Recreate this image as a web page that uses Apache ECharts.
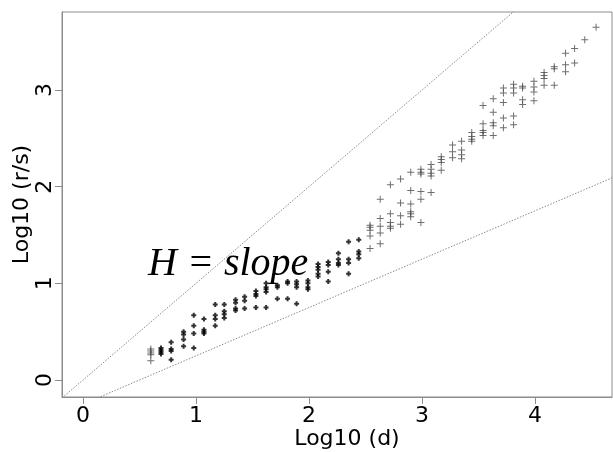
<!DOCTYPE html>
<html>
<head>
<meta charset="utf-8">
<script src="https://cdn.jsdelivr.net/npm/echarts@6/dist/echarts.min.js"></script>
<style>html,body{margin:0;padding:0;background:#fff}#c{width:613px;height:452px}</style>
</head>
<body>
<div id="c"></div>
<script>
// Column positions: log10(d)
const logD = [0.60, 0.69, 0.78, 0.89, 0.98, 1.07, 1.17, 1.25, 1.35, 1.43, 1.53, 1.62, 1.72, 1.81, 1.89, 1.99, 2.08, 2.17, 2.26, 2.35, 2.44,
  2.54, 2.63, 2.72, 2.81, 2.90, 2.99, 3.08, 3.17, 3.27, 3.35, 3.44, 3.54, 3.63, 3.72, 3.81, 3.89, 3.99, 4.08, 4.17, 4.27, 4.35, 4.44, 4.54];
// log10(r/s) values in each column
const logRS = [
  [0.32, 0.30, 0.28, 0.26, 0.20],
  [0.33, 0.31, 0.29, 0.27],
  [0.39, 0.32, 0.30, 0.21],
  [0.50, 0.47, 0.42, 0.35],
  [0.67, 0.56, 0.48, 0.33],
  [0.63, 0.52, 0.50, 0.48],
  [0.78, 0.67, 0.63, 0.56],
  [0.78, 0.71, 0.68, 0.64],
  [0.83, 0.80, 0.74, 0.72],
  [0.86, 0.82, 0.74],
  [0.92, 0.89, 0.87, 0.75],
  [1.00, 0.96, 0.94, 0.91, 0.75],
  [0.98, 0.96, 0.84],
  [1.02, 1.00, 0.84],
  [1.02, 0.99, 0.96, 0.79],
  [1.03, 1.00, 0.96, 0.94],
  [1.20, 1.17, 1.14, 1.10, 1.07],
  [1.22, 1.19, 1.12, 1.02],
  [1.31, 1.25, 1.21, 1.19],
  [1.43, 1.25, 1.21, 1.10],
  [1.45, 1.33, 1.30, 1.26],
  [1.60, 1.58, 1.55, 1.49, 1.36],
  [1.87, 1.67, 1.59, 1.52, 1.41],
  [2.02, 1.72, 1.63, 1.59, 1.57],
  [2.08, 1.83, 1.70, 1.61],
  [2.15, 1.96, 1.82, 1.74, 1.72, 1.69],
  [2.18, 2.15, 2.13, 1.95, 1.87, 1.63],
  [2.23, 2.18, 2.14, 2.11, 1.94],
  [2.31, 2.28, 2.25, 2.17],
  [2.43, 2.36, 2.30],
  [2.47, 2.38, 2.33, 2.29],
  [2.56, 2.52, 2.49, 2.47],
  [2.84, 2.65, 2.58, 2.56, 2.53],
  [2.91, 2.77, 2.66, 2.63, 2.53],
  [3.02, 2.97, 2.87, 2.71, 2.61],
  [3.06, 3.02, 2.97, 2.73, 2.64],
  [3.04, 3.02, 2.90, 2.85],
  [3.09, 3.03, 2.98, 2.89],
  [3.18, 3.15, 3.12, 3.05],
  [3.24, 3.22, 3.05],
  [3.38, 3.26, 3.19],
  [3.43, 3.28],
  [3.52],
  [3.65]
];
// Columns drawn with the heavier (black) marks
const heavyFrom = 0.65, heavyTo = 2.5;
// Reference lines: slope, intercept
const refSlopes = [1, 0.5];
const refIntercepts = [0, -0.25];
const xTicks = [0, 1, 2, 3, 4];
const yTicks = [0, 1, 2, 3];
const xMin = -0.186, xMax = 4.681, yMin = -0.176, yMax = 3.807;

const light = [], heavy = [];
logD.forEach((x, i) => {
  logRS[i].forEach(y => {
    (x > heavyFrom && x < heavyTo ? heavy : light).push([x, y]);
  });
});

const plusThin = 'path://M3,0H4V3H7V4H4V7H3V4H0V3H3Z';
const plusThick = 'path://M1.5,0H3.5V1.5H5V3.5H3.5V5H1.5V3.5H0V1.5H1.5Z';

const lineSeries = refSlopes.map((s, i) => ({
  type: 'line', silent: true, symbol: 'none', clip: true, z: 1,
  lineStyle: { color: '#8a8a8a', width: 1, type: [1.5, 1.5] },
  data: [[xMin, s * xMin + refIntercepts[i]], [xMax, s * xMax + refIntercepts[i]]]
}));

const font = '"DejaVu Sans", "Liberation Sans", Arial, sans-serif';
const chart = echarts.init(document.getElementById('c'), null, { renderer: 'canvas' });
chart.setOption({
  animation: false,
  backgroundColor: '#fff',
  grid: { left: 62, top: 12, right: 1, bottom: 55, containLabel: false, outerBoundsMode: 'none', show: true, borderColor: '#8c8c8c', borderWidth: 1, backgroundColor: 'transparent' },
  xAxis: {
    type: 'value', min: xMin, max: xMax,
    name: 'Log10 (d)', nameLocation: 'middle', nameGap: 31, nameMoveOverlap: false,
    nameTextStyle: { fontFamily: font, fontSize: 22, color: '#000', padding: [0, 0, 0, 20], verticalAlign: 'top' },
    axisLine: { show: true, onZero: false, lineStyle: { color: '#8c8c8c', width: 1 } },
    axisTick: { show: true, length: 7, customValues: xTicks, lineStyle: { color: '#8c8c8c' } },
    axisLabel: { customValues: xTicks, fontFamily: font, fontSize: 22, color: '#000', margin: 8 },
    splitLine: { show: false }
  },
  yAxis: {
    type: 'value', min: yMin, max: yMax,
    name: 'Log10 (r/s)', nameLocation: 'middle', nameGap: 29, nameMoveOverlap: false,
    nameTextStyle: { fontFamily: font, fontSize: 22, color: '#000' },
    axisLine: { show: true, onZero: false, lineStyle: { color: '#8c8c8c', width: 1 } },
    axisTick: { show: true, length: 7, customValues: yTicks, lineStyle: { color: '#8c8c8c' } },
    axisLabel: { customValues: yTicks, rotate: 90, fontFamily: font, fontSize: 22, color: '#000', margin: 6 },
    splitLine: { show: false }
  },
  series: lineSeries.concat([
    { type: 'scatter', data: light, symbol: plusThin, symbolSize: 7, itemStyle: { color: '#4a4a4a' }, z: 3 },
    { type: 'scatter', data: heavy, symbol: plusThick, symbolSize: 5, itemStyle: { color: '#000' }, z: 3 }
  ]),
  graphic: [{
    type: 'text', z: 10,
    style: { text: 'H = slope', x: 148, y: 264, font: 'italic 40px "Liberation Serif", "Times New Roman", serif', fill: '#000', verticalAlign: 'middle', align: 'left' }
  }]
});
</script>
</body>
</html>
